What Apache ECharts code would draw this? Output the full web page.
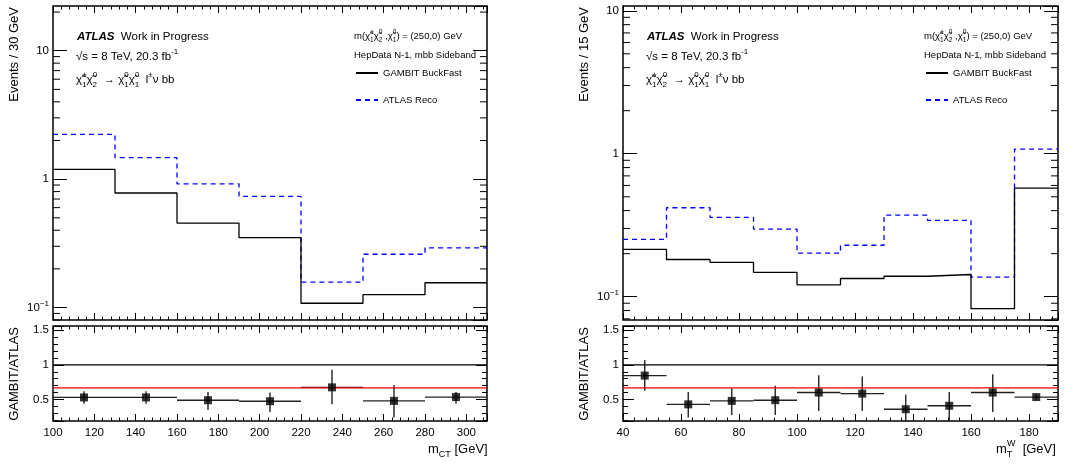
<!DOCTYPE html>
<html>
<head>
<meta charset="utf-8">
<title>GAMBIT BuckFast vs ATLAS Reco</title>
<script src="https://cdn.jsdelivr.net/npm/echarts@6/dist/echarts.min.js"></script>
<style>
  html, body { margin: 0; padding: 0; background: #fff; }
  #main { width: 1077px; height: 465px; }
</style>
</head>
<body>
<div id="main"></div>
<script>
// m_CT panel, 30 GeV bins
var mctEdges = [100, 130, 160, 190, 220, 250, 280, 310];
var mctGambit = [1.19, 0.78, 0.455, 0.35, 0.108, 0.126, 0.156];
var mctAtlas = [2.23, 1.47, 0.92, 0.735, 0.158, 0.26, 0.292];
var mctRatio = [0.53, 0.53, 0.49, 0.475, 0.675, 0.48, 0.535];
var mctRatioLo = [0.44, 0.44, 0.35, 0.32, 0.43, 0.24, 0.44];
var mctRatioHi = [0.62, 0.62, 0.61, 0.60, 0.93, 0.71, 0.61];

// m_T^W panel, 15 GeV bins
var mtwEdges = [40, 55, 70, 85, 100, 115, 130, 145, 160, 175, 190];
var mtwGambit = [0.214, 0.182, 0.174, 0.148, 0.121, 0.134, 0.139, 0.143, 0.0824, 0.575];
var mtwAtlas = [0.252, 0.419, 0.359, 0.297, 0.202, 0.229, 0.372, 0.342, 0.137, 1.078];
var mtwRatio = [0.845, 0.43, 0.48, 0.49, 0.60, 0.585, 0.36, 0.41, 0.60, 0.535];
var mtwRatioLo = [0.625, 0.24, 0.275, 0.275, 0.335, 0.335, 0.18, 0.19, 0.32, 0.50];
var mtwRatioHi = [1.07, 0.61, 0.66, 0.70, 0.85, 0.83, 0.57, 0.61, 0.865, 0.57];

var unityLine = 1;
var fitLine = 0.668;
var logMinorTicks = [0.07, 0.08, 0.09, 0.2, 0.3, 0.4, 0.5, 0.6, 0.7, 0.8, 0.9,
                     2, 3, 4, 5, 6, 7, 8, 9, 20];

var FONT = "'Liberation Sans', Arial, Helvetica, sans-serif";
var BLACK = '#000';

var chart = echarts.init(document.getElementById('main'));

function histPoints(edges, vals) {
  var pts = vals.map(function (v, i) { return [edges[i], v]; });
  pts.push([edges[edges.length - 1], vals[vals.length - 1]]);
  return pts;
}

function ratioItems(edges, vals, lo, hi) {
  return vals.map(function (v, i) {
    return [(edges[i] + edges[i + 1]) / 2, v, lo[i], hi[i], edges[i], edges[i + 1]];
  });
}

function renderErr(params, api) {
  var cs = params.coordSys;
  var clampY = function (p) { return Math.max(cs.y, Math.min(cs.y + cs.height, p)); };
  var x = api.value(0), y = api.value(1);
  var pLo = api.coord([x, api.value(2)]);
  var pHi = api.coord([x, api.value(3)]);
  var pL = api.coord([api.value(4), y]);
  var pR = api.coord([api.value(5), y]);
  var st = { stroke: '#222', lineWidth: 1.4 };
  return {
    type: 'group',
    children: [
      { type: 'line', shape: { x1: pLo[0], y1: clampY(pLo[1]), x2: pHi[0], y2: clampY(pHi[1]) }, style: st },
      { type: 'line', shape: { x1: pL[0], y1: pL[1], x2: pR[0], y2: pR[1] }, style: st }
    ]
  };
}

// minor ticks 2..9 of each decade, both sides of the frame
function renderLogMinor(params, api) {
  var cs = params.coordSys;
  var p = api.coord([api.value(0), api.value(1)]);
  if (p[1] < cs.y || p[1] > cs.y + cs.height) return null;
  var st = { stroke: BLACK, lineWidth: 1 };
  return {
    type: 'group',
    children: [
      { type: 'line', shape: { x1: cs.x, y1: p[1], x2: cs.x + 7, y2: p[1] }, style: st },
      { type: 'line', shape: { x1: cs.x + cs.width - 7, y1: p[1], x2: cs.x + cs.width, y2: p[1] }, style: st }
    ]
  };
}

function xAxisPair(grid, min, max, showLabels) {
  var base = {
    type: 'value', gridIndex: grid, min: min, max: max, interval: 20,
    axisLine: { show: false }, splitLine: { show: false },
    axisTick: { inside: true, length: 7, lineStyle: { color: BLACK } },
    minorTick: { show: true, splitNumber: 5, length: 3.5, lineStyle: { color: BLACK } }
  };
  var bottom = Object.assign({}, base, {
    position: 'bottom',
    axisLabel: showLabels
      ? { show: true, margin: 6, color: BLACK, fontSize: 11.5, fontFamily: FONT, showMaxLabel: false }
      : { show: false }
  });
  var top = Object.assign({}, base, { position: 'top', axisLabel: { show: false } });
  return [bottom, top];
}

function logAxisPair(grid, min, max) {
  var base = {
    type: 'log', logBase: 10, gridIndex: grid, min: min, max: max,
    axisLine: { show: false }, splitLine: { show: false },
    axisTick: { inside: true, length: 14, lineStyle: { color: BLACK } }
  };
  var left = Object.assign({}, base, {
    position: 'left',
    axisLabel: {
      margin: 4, color: BLACK, fontSize: 11.5, fontFamily: FONT,
      showMinLabel: false, showMaxLabel: false,
      formatter: function (v) {
        var e = Math.round(Math.log10(v));
        if (e === 0) return '1';
        if (e === 1) return '10';
        return '{b|10}{s|\u2212' + Math.abs(e) + '}';
      },
      rich: {
        b: { fontSize: 11.5, fontFamily: FONT, color: BLACK, lineHeight: 16 },
        s: { fontSize: 8, fontFamily: FONT, color: BLACK, verticalAlign: 'top', lineHeight: 9 }
      }
    }
  });
  var right = Object.assign({}, base, { position: 'right', axisLabel: { show: false } });
  return [left, right];
}

function ratioAxisPair(grid) {
  var base = {
    type: 'value', gridIndex: grid, min: 0.19, max: 1.56, splitNumber: 3,
    axisLine: { show: false }, splitLine: { show: false },
    axisTick: { inside: true, length: 11, lineStyle: { color: BLACK } },
    minorTick: { show: true, splitNumber: 5, length: 5, lineStyle: { color: BLACK } }
  };
  var left = Object.assign({}, base, {
    position: 'left',
    axisLabel: { margin: 4, color: BLACK, fontSize: 11.5, fontFamily: FONT,
                 showMinLabel: false, showMaxLabel: false }
  });
  var right = Object.assign({}, base, { position: 'right', axisLabel: { show: false } });
  return [left, right];
}

function panelSeries(xi, yi, rxi, ryi, edges, gambit, atlas, ratio, lo, hi) {
  var x0 = edges[0], x1 = edges[edges.length - 1];
  return [
    {
      name: 'GAMBIT BuckFast', type: 'line', step: 'end', symbol: 'none',
      xAxisIndex: xi, yAxisIndex: yi, data: histPoints(edges, gambit),
      lineStyle: { color: BLACK, width: 1.3 }, itemStyle: { color: BLACK }, z: 4
    },
    {
      name: 'ATLAS Reco', type: 'line', step: 'end', symbol: 'none',
      xAxisIndex: xi, yAxisIndex: yi, data: histPoints(edges, atlas),
      lineStyle: { color: '#0000ff', width: 1.3, type: [5, 4] }, itemStyle: { color: '#0000ff' }, z: 3
    },
    {
      type: 'custom', xAxisIndex: xi, yAxisIndex: yi, silent: true,
      data: logMinorTicks.map(function (v) { return [x0, v]; }),
      renderItem: renderLogMinor, z: 2
    },
    {
      type: 'line', symbol: 'none', xAxisIndex: rxi, yAxisIndex: ryi, silent: true,
      data: [[x0, unityLine], [x1, unityLine]], lineStyle: { color: BLACK, width: 1.2 }
    },
    {
      type: 'line', symbol: 'none', xAxisIndex: rxi, yAxisIndex: ryi, silent: true,
      data: [[x0, fitLine], [x1, fitLine]], lineStyle: { color: '#ff0000', width: 1.2 }
    },
    {
      type: 'custom', xAxisIndex: rxi, yAxisIndex: ryi, silent: true,
      data: ratioItems(edges, ratio, lo, hi), renderItem: renderErr, z: 3
    },
    {
      type: 'scatter', xAxisIndex: rxi, yAxisIndex: ryi, symbol: 'rect', symbolSize: 8,
      data: ratioItems(edges, ratio, lo, hi).map(function (d) { return [d[0], d[1]]; }),
      itemStyle: { color: BLACK }, z: 5
    }
  ];
}

// sub token 'z' has no advance, so the following superscript stacks above it
function scriptStyles(size, small, lh) {
  return {
    c: { fontSize: size, fontFamily: FONT, color: BLACK, lineHeight: lh },
    sp: { fontSize: small, fontFamily: FONT, color: BLACK, verticalAlign: 'top', lineHeight: small + 1 },
    sb: { fontSize: small, fontFamily: FONT, color: BLACK, verticalAlign: 'bottom', lineHeight: small + 1 },
    z: { fontSize: small, fontFamily: FONT, color: BLACK, verticalAlign: 'bottom', lineHeight: small + 1, width: 0.1 },
    b: { fontSize: size, fontFamily: FONT, color: BLACK, fontWeight: 'bold', fontStyle: 'italic', lineHeight: lh }
  };
}
var bigScripts = scriptStyles(11.5, 8, 18);
var smallScripts = scriptStyles(9.5, 6.5, 15);

var chi = '{c|\u03c7\u0303}';

function txt(x, y, text, size, rich, lh) {
  var style = {
    text: text, fill: BLACK, fontSize: size, fontFamily: FONT, textVerticalAlign: 'middle'
  };
  if (rich) { style.rich = rich; style.lineHeight = lh; }
  return { type: 'text', x: x, y: y, style: style, silent: true };
}

function panelTexts(dx, yTitle, xTitle, xTitleLeft) {
  return [
    txt(77 + dx, 37, '{b|ATLAS}  Work in Progress', 11.5, bigScripts, 18),
    txt(76 + dx, 57, '\u221as = 8 TeV, 20.3 fb{sp|-1}', 11.5, bigScripts, 18),
    txt(76 + dx, 80, chi + '{z|1}{sp|\u00b1}' + chi + '{z|2}{sp|0}  \u2192 ' + chi + '{z|1}{sp|0}' + chi +
        '{z|1}{sp|0}  l{sp|\u00b1}\u03bd bb', 11.5, bigScripts, 18),
    txt(354 + dx, 36, 'm(' + chi + '{z|1}{sp|\u00b1}' + chi + '{z|2}{sp|0} ,' + chi + '{z|1}{sp|0}' +
        ') = (250,0) GeV', 9.5, smallScripts, 15),
    txt(354 + dx, 55, 'HepData N-1, mbb Sideband', 9.5),
    {
      type: 'text', x: 14 + dx, y: 7, rotation: Math.PI / 2, silent: true,
      style: { text: yTitle, fill: BLACK, fontSize: 13, fontFamily: FONT, textAlign: 'right', textVerticalAlign: 'middle' }
    },
    {
      type: 'text', x: 14 + dx, y: 374, rotation: Math.PI / 2, silent: true,
      style: { text: 'GAMBIT/ATLAS', fill: BLACK, fontSize: 13, fontFamily: FONT, textAlign: 'center', textVerticalAlign: 'middle' }
    },
    {
      type: 'text', x: xTitleLeft, y: 449, silent: true,
      style: {
        text: xTitle, fill: BLACK, fontSize: 13, fontFamily: FONT, textAlign: 'left', textVerticalAlign: 'middle',
        lineHeight: 20, rich: scriptStyles(13, 9, 20)
      }
    }
  ];
}

function legendAt(left) {
  // itemHeight 1 keeps only the line sample of each series
  return {
    left: left, top: 68, orient: 'vertical', itemWidth: 22, itemHeight: 1, itemGap: 17,
    selectedMode: false, padding: 0,
    data: ['GAMBIT BuckFast', 'ATLAS Reco'],
    textStyle: { fontSize: 9.5, fontFamily: FONT, color: BLACK }
  };
}

var gridBox = { show: true, borderColor: BLACK, borderWidth: 1.5, backgroundColor: 'transparent' };

var option = {
  animation: false,
  backgroundColor: '#fff',
  grid: [
    Object.assign({ left: 53, top: 6, width: 434, height: 314 }, gridBox),
    Object.assign({ left: 53, top: 326, width: 434, height: 95 }, gridBox),
    Object.assign({ left: 623, top: 6, width: 435, height: 314 }, gridBox),
    Object.assign({ left: 623, top: 326, width: 435, height: 95 }, gridBox)
  ],
  xAxis: [].concat(
    xAxisPair(0, 100, 310, false),
    xAxisPair(1, 100, 310, true),
    xAxisPair(2, 40, 190, false),
    xAxisPair(3, 40, 190, true)
  ),
  yAxis: [].concat(
    logAxisPair(0, 0.08, 22.3),
    ratioAxisPair(1),
    logAxisPair(2, 0.0687, 10.8),
    ratioAxisPair(3)
  ),
  legend: [legendAt(355), legendAt(925)],
  series: [].concat(
    panelSeries(0, 0, 2, 2, mctEdges, mctGambit, mctAtlas, mctRatio, mctRatioLo, mctRatioHi),
    panelSeries(4, 4, 6, 6, mtwEdges, mtwGambit, mtwAtlas, mtwRatio, mtwRatioLo, mtwRatioHi)
  ),
  graphic: [].concat(
    panelTexts(0, 'Events / 30 GeV', '{c|m}{sb|CT} [GeV]', 428),
    panelTexts(570, 'Events / 15 GeV', '{c|m}{z|T}{sp|W}  [GeV]', 996)
  )
};

chart.setOption(option);
</script>
</body>
</html>
